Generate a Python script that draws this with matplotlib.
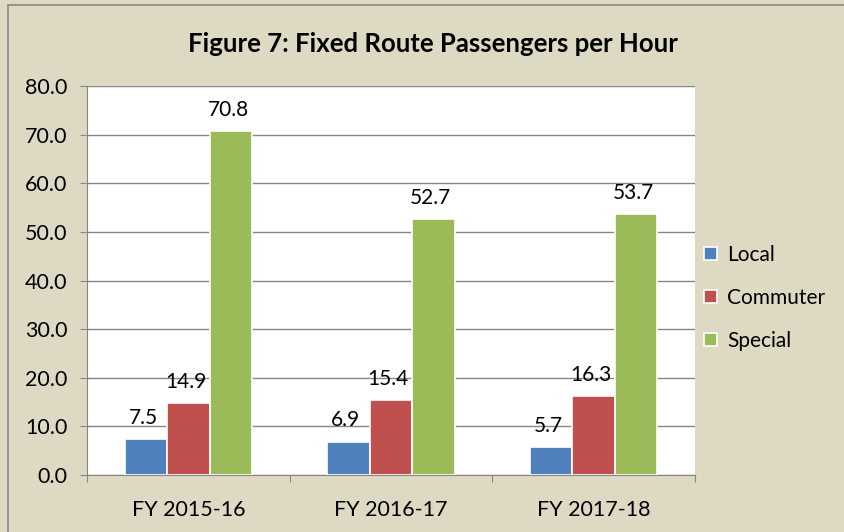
import matplotlib
matplotlib.use('Agg')
import matplotlib.pyplot as plt
import numpy as np
from matplotlib.patches import Rectangle

categories = ['FY 2015-16', 'FY 2016-17', 'FY 2017-18']
local = [7.5, 6.9, 5.7]
commuter = [14.9, 15.4, 16.3]
special = [70.8, 52.7, 53.7]
series_names = ['Local', 'Commuter', 'Special']
colors = ['#4F81BD', '#C0504D', '#9BBB59']

plt.rcParams['font.family'] = ['Lato', 'DejaVu Sans']

bg = '#DDD9C3'
fig = plt.figure(figsize=(8.45, 5.32), dpi=100, facecolor=bg)
fig.patches.append(Rectangle((0.009, -0.01), 1.0, 1.0, transform=fig.transFigure,
                             fill=False, edgecolor='#888888', lw=1.2))
ax = fig.add_axes([0.103, 0.107, 0.719, 0.731])
ax.set_facecolor('white')

x = np.arange(len(categories))
w = 0.21
for i, (vals, name, c) in enumerate(zip([local, commuter, special], series_names, colors)):
    pos = x + (i - 1) * w
    ax.bar(pos, vals, width=w, color=c, edgecolor='white', linewidth=1.2,
           label=name, zorder=3)
    for p, v in zip(pos, vals):
        ax.annotate(f'{v:.1f}', (p, v), xytext=(-2, 8), textcoords='offset points',
                    ha='center', va='bottom', fontsize=15, color='black', zorder=4)

ax.set_xlim(-0.5, 2.5)
ax.set_ylim(0, 80)
yt = np.arange(0, 81, 10)
ax.set_yticks(yt)
ax.set_yticklabels([f'{v:.1f}' for v in yt], fontsize=15.5)
ax.yaxis.grid(True, color='#868686', lw=1, zorder=0)
ax.set_axisbelow(True)

ax.set_xticks([-0.5, 0.5, 1.5, 2.5])
ax.set_xticklabels([])
ax.set_xticks(x, minor=True)
ax.set_xticklabels(categories, minor=True, fontsize=15.5)
ax.tick_params(axis='x', which='minor', length=0, pad=18)
ax.tick_params(axis='x', which='major', length=5, color='#868686')
ax.tick_params(axis='y', length=5, color='#868686', pad=9)

for s in ['top', 'right']:
    ax.spines[s].set_visible(False)
for s in ['left', 'bottom']:
    ax.spines[s].set_color('#868686')

fig.text(0.512, 0.917, 'Figure 7: Fixed Route Passengers per Hour', ha='center',
         va='center', fontsize=18.5, fontweight='bold')

ax.legend(loc='center left', bbox_to_anchor=(0.985, 0.455), frameon=False,
          fontsize=15, handlelength=0.6, handleheight=0.6, labelspacing=1.1,
          handletextpad=0.5)

fig.savefig('out.png', dpi=100, facecolor=bg)
